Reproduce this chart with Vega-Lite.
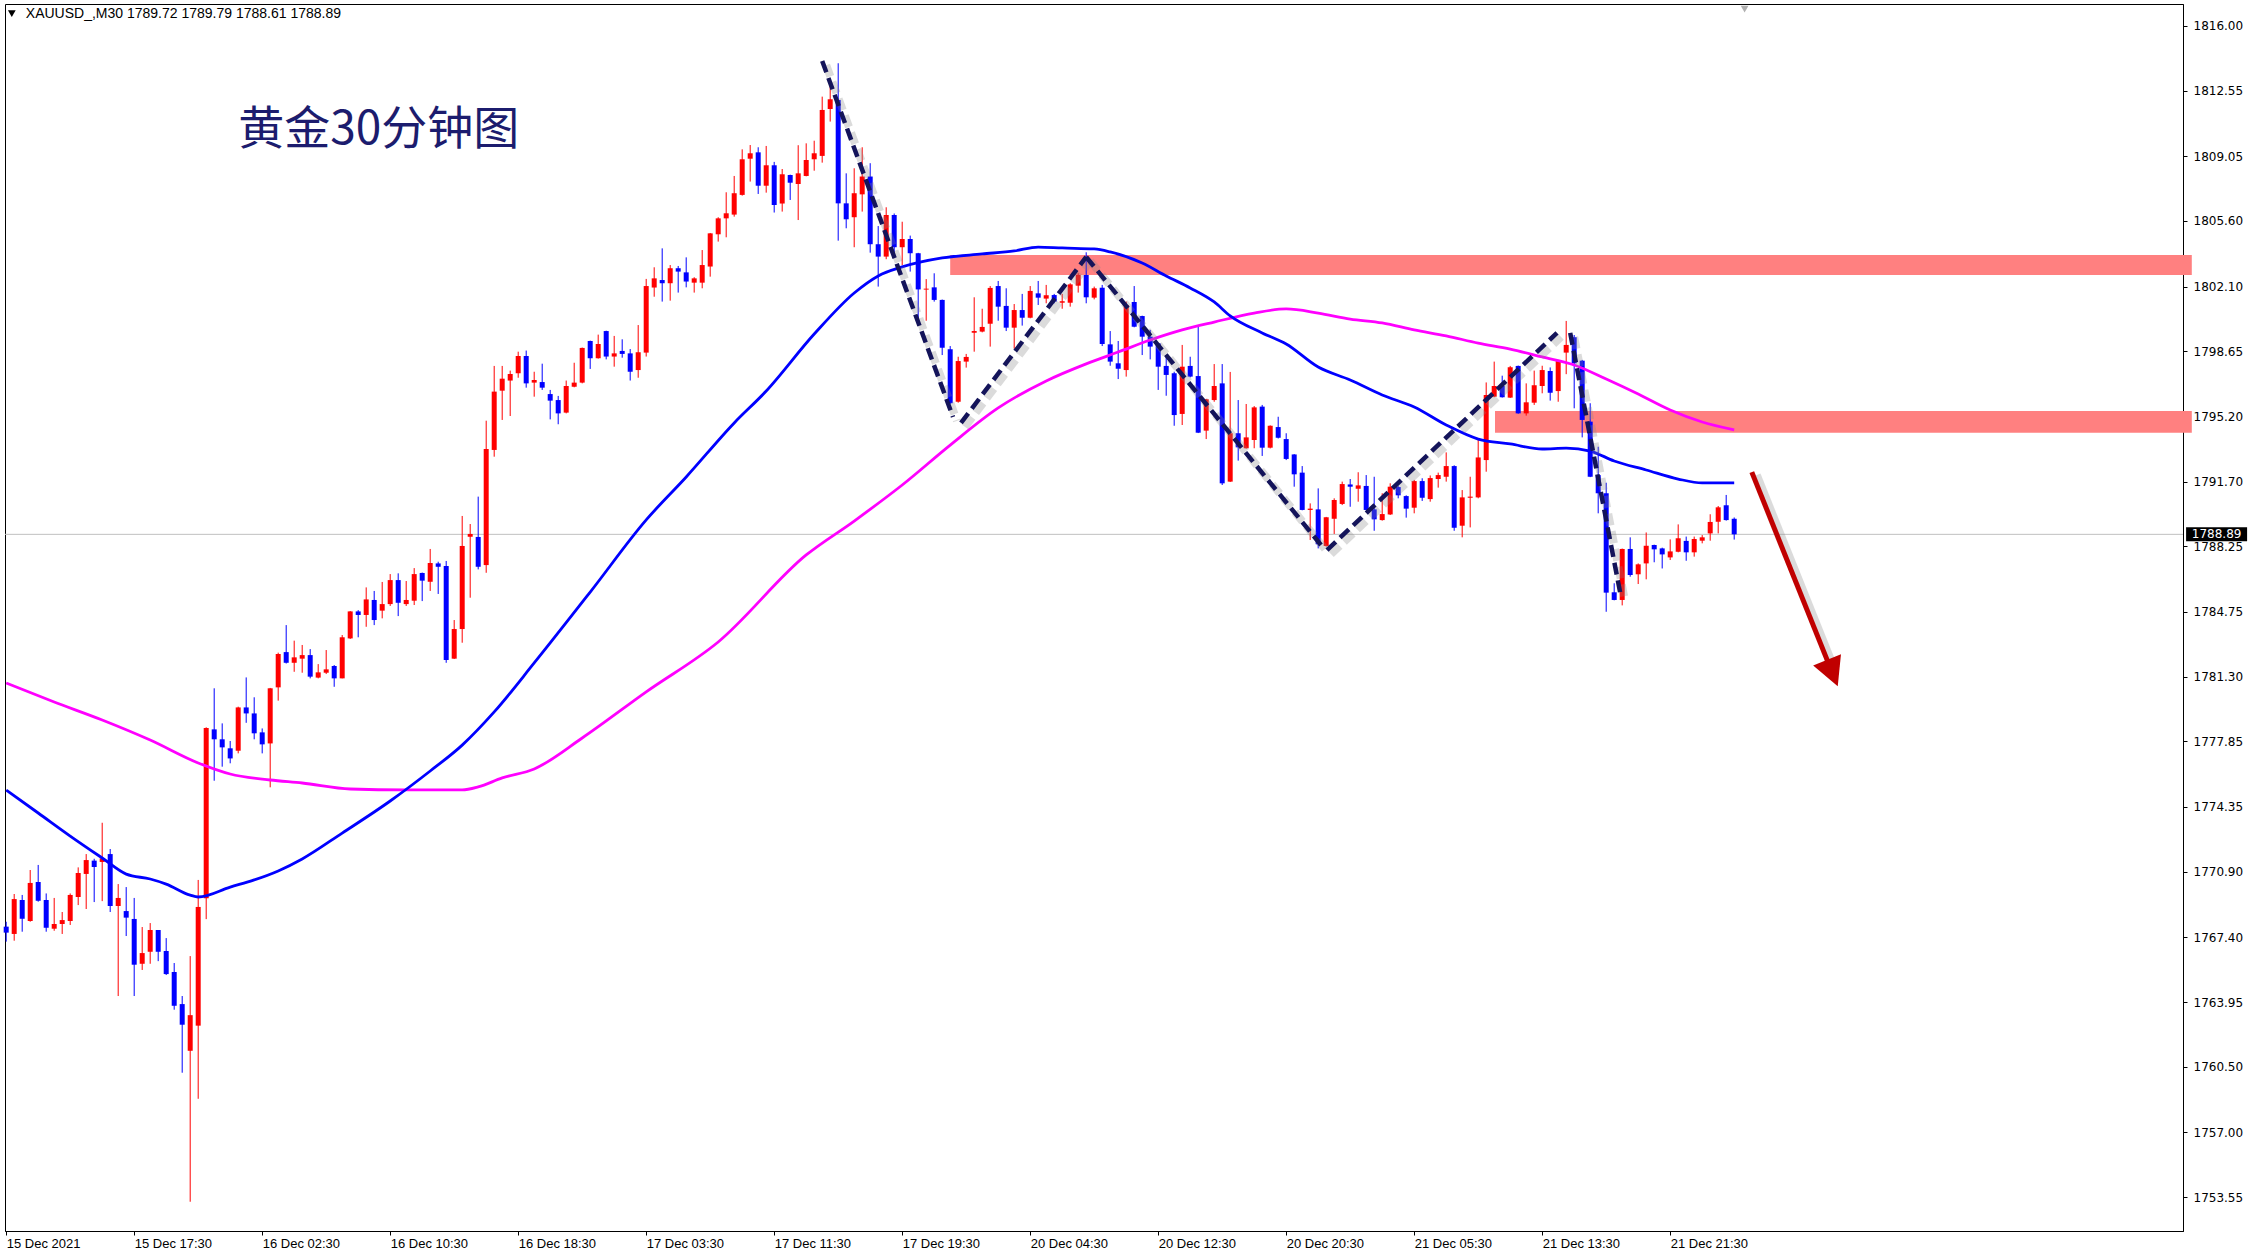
{
 "$schema": "https://vega.github.io/schema/vega-lite/v6.json",
 "width": 2178, "height": 1227,
 "autosize": {"type": "none"},
 "padding": {"left": 5, "top": 4, "right": 74, "bottom": 29},
 "background": "#ffffff",
 "config": {"view": {"stroke": "#000000", "strokeWidth": 1}, "axis": {"grid": false}},
 "datasets": {
  "candles": [
{"k":0,"o":1767.97,"h":1768.23,"l":1767.17,"c":1767.65},
{"k":1,"o":1767.58,"h":1769.71,"l":1767.22,"c":1769.44},
{"k":2,"o":1769.39,"h":1769.66,"l":1767.70,"c":1768.39},
{"k":3,"o":1768.27,"h":1770.99,"l":1768.23,"c":1770.30},
{"k":4,"o":1770.35,"h":1771.26,"l":1769.30,"c":1769.35},
{"k":5,"o":1769.39,"h":1769.74,"l":1767.70,"c":1767.91},
{"k":6,"o":1767.86,"h":1769.50,"l":1767.75,"c":1768.11},
{"k":7,"o":1768.11,"h":1768.75,"l":1767.58,"c":1768.32},
{"k":8,"o":1768.27,"h":1769.74,"l":1768.06,"c":1769.66},
{"k":9,"o":1769.55,"h":1771.13,"l":1769.12,"c":1770.83},
{"k":10,"o":1770.78,"h":1771.84,"l":1768.91,"c":1771.52},
{"k":11,"o":1771.49,"h":1771.59,"l":1769.28,"c":1771.15},
{"k":12,"o":1771.42,"h":1773.51,"l":1769.33,"c":1771.61},
{"k":13,"o":1771.84,"h":1772.11,"l":1768.75,"c":1769.07},
{"k":14,"o":1769.07,"h":1770.24,"l":1764.27,"c":1769.50},
{"k":15,"o":1768.80,"h":1770.08,"l":1767.47,"c":1768.45},
{"k":16,"o":1768.38,"h":1769.50,"l":1764.27,"c":1765.94},
{"k":17,"o":1765.99,"h":1767.95,"l":1765.66,"c":1766.56},
{"k":18,"o":1766.63,"h":1768.16,"l":1765.99,"c":1767.79},
{"k":19,"o":1767.79,"h":1767.79,"l":1766.13,"c":1766.63},
{"k":20,"o":1766.67,"h":1767.36,"l":1765.39,"c":1765.44},
{"k":21,"o":1765.55,"h":1766.03,"l":1763.54,"c":1763.75},
{"k":22,"o":1763.84,"h":1764.27,"l":1760.18,"c":1762.74},
{"k":23,"o":1761.35,"h":1766.40,"l":1753.30,"c":1763.25},
{"k":24,"o":1762.69,"h":1770.46,"l":1758.79,"c":1769.02},
{"k":25,"o":1769.49,"h":1778.60,"l":1768.37,"c":1778.56},
{"k":26,"o":1778.49,"h":1780.68,"l":1775.75,"c":1777.96},
{"k":27,"o":1777.96,"h":1778.81,"l":1776.50,"c":1777.53},
{"k":28,"o":1777.48,"h":1777.87,"l":1776.68,"c":1776.94},
{"k":29,"o":1777.35,"h":1779.70,"l":1777.21,"c":1779.66},
{"k":30,"o":1779.66,"h":1781.26,"l":1778.84,"c":1779.34},
{"k":31,"o":1779.34,"h":1780.20,"l":1777.96,"c":1778.28},
{"k":32,"o":1778.33,"h":1778.54,"l":1777.21,"c":1777.69},
{"k":33,"o":1777.74,"h":1780.70,"l":1775.40,"c":1780.68},
{"k":34,"o":1780.73,"h":1782.58,"l":1780.02,"c":1782.51},
{"k":35,"o":1782.61,"h":1784.05,"l":1782.00,"c":1782.04},
{"k":36,"o":1782.04,"h":1783.22,"l":1781.56,"c":1782.33},
{"k":37,"o":1782.26,"h":1782.99,"l":1781.51,"c":1782.45},
{"k":38,"o":1782.45,"h":1782.77,"l":1781.21,"c":1781.30},
{"k":39,"o":1781.25,"h":1781.97,"l":1781.21,"c":1781.53},
{"k":40,"o":1781.51,"h":1782.72,"l":1781.44,"c":1781.69},
{"k":41,"o":1781.87,"h":1781.92,"l":1780.76,"c":1781.21},
{"k":42,"o":1781.21,"h":1783.52,"l":1781.21,"c":1783.40},
{"k":43,"o":1783.34,"h":1784.80,"l":1783.31,"c":1784.78},
{"k":44,"o":1784.78,"h":1784.85,"l":1783.40,"c":1784.59},
{"k":45,"o":1784.59,"h":1786.06,"l":1783.96,"c":1785.42},
{"k":46,"o":1785.39,"h":1785.87,"l":1784.05,"c":1784.32},
{"k":47,"o":1784.82,"h":1786.35,"l":1784.41,"c":1785.17},
{"k":48,"o":1785.17,"h":1786.77,"l":1785.07,"c":1786.45},
{"k":49,"o":1786.45,"h":1786.81,"l":1784.53,"c":1785.24},
{"k":50,"o":1785.17,"h":1786.40,"l":1785.07,"c":1785.39},
{"k":51,"o":1785.35,"h":1787.09,"l":1785.12,"c":1786.77},
{"k":52,"o":1786.83,"h":1786.85,"l":1785.33,"c":1786.42},
{"k":53,"o":1786.36,"h":1788.11,"l":1785.87,"c":1787.36},
{"k":54,"o":1787.34,"h":1787.43,"l":1785.71,"c":1787.16},
{"k":55,"o":1787.20,"h":1787.47,"l":1782.04,"c":1782.19},
{"k":56,"o":1782.26,"h":1784.32,"l":1782.24,"c":1783.84},
{"k":57,"o":1783.84,"h":1789.87,"l":1783.11,"c":1788.27},
{"k":58,"o":1788.76,"h":1789.44,"l":1785.51,"c":1788.91},
{"k":59,"o":1788.75,"h":1790.90,"l":1787.02,"c":1787.16},
{"k":60,"o":1787.25,"h":1794.95,"l":1786.84,"c":1793.44},
{"k":61,"o":1793.39,"h":1797.87,"l":1793.03,"c":1796.50},
{"k":62,"o":1796.55,"h":1797.87,"l":1794.99,"c":1797.19},
{"k":63,"o":1797.09,"h":1797.62,"l":1795.20,"c":1797.44},
{"k":64,"o":1797.48,"h":1798.63,"l":1797.24,"c":1798.40},
{"k":65,"o":1798.40,"h":1798.69,"l":1796.71,"c":1796.94},
{"k":66,"o":1796.98,"h":1797.56,"l":1796.23,"c":1797.12},
{"k":67,"o":1797.01,"h":1797.99,"l":1796.59,"c":1796.71},
{"k":68,"o":1796.37,"h":1796.59,"l":1795.02,"c":1796.02},
{"k":69,"o":1796.05,"h":1796.27,"l":1794.76,"c":1795.34},
{"k":70,"o":1795.38,"h":1797.09,"l":1795.34,"c":1796.80},
{"k":71,"o":1796.76,"h":1798.04,"l":1796.73,"c":1796.98},
{"k":72,"o":1796.98,"h":1798.85,"l":1796.94,"c":1798.83},
{"k":73,"o":1799.20,"h":1799.22,"l":1797.71,"c":1798.28},
{"k":74,"o":1798.28,"h":1799.54,"l":1798.26,"c":1799.04},
{"k":75,"o":1799.73,"h":1799.75,"l":1798.22,"c":1798.37},
{"k":76,"o":1798.37,"h":1799.47,"l":1797.83,"c":1798.54},
{"k":77,"o":1798.67,"h":1799.29,"l":1798.31,"c":1798.51},
{"k":78,"o":1798.54,"h":1798.77,"l":1797.09,"c":1797.56},
{"k":79,"o":1797.65,"h":1800.05,"l":1797.24,"c":1798.60},
{"k":80,"o":1798.58,"h":1802.51,"l":1798.37,"c":1802.13},
{"k":81,"o":1802.05,"h":1803.13,"l":1801.56,"c":1802.54},
{"k":82,"o":1802.45,"h":1804.14,"l":1801.30,"c":1802.28},
{"k":83,"o":1802.28,"h":1803.25,"l":1801.35,"c":1803.08},
{"k":84,"o":1803.08,"h":1803.20,"l":1801.78,"c":1802.90},
{"k":85,"o":1802.86,"h":1803.66,"l":1802.06,"c":1802.37},
{"k":86,"o":1802.31,"h":1802.60,"l":1801.78,"c":1802.54},
{"k":87,"o":1802.31,"h":1804.05,"l":1802.01,"c":1803.25},
{"k":88,"o":1803.17,"h":1804.96,"l":1802.63,"c":1804.94},
{"k":89,"o":1804.89,"h":1805.80,"l":1804.50,"c":1805.74},
{"k":90,"o":1805.74,"h":1807.13,"l":1804.73,"c":1806.01},
{"k":91,"o":1805.94,"h":1808.00,"l":1805.83,"c":1807.08},
{"k":92,"o":1806.99,"h":1809.42,"l":1806.95,"c":1808.89},
{"k":93,"o":1808.92,"h":1809.65,"l":1807.70,"c":1809.21},
{"k":94,"o":1809.26,"h":1809.53,"l":1807.04,"c":1807.48},
{"k":95,"o":1807.48,"h":1809.60,"l":1807.11,"c":1808.57},
{"k":96,"o":1808.57,"h":1808.75,"l":1806.05,"c":1806.45},
{"k":97,"o":1806.53,"h":1808.37,"l":1806.10,"c":1808.09},
{"k":98,"o":1808.05,"h":1808.07,"l":1806.72,"c":1807.64},
{"k":99,"o":1807.57,"h":1809.64,"l":1805.65,"c":1808.14},
{"k":100,"o":1808.00,"h":1809.74,"l":1807.98,"c":1808.85},
{"k":101,"o":1808.89,"h":1809.88,"l":1808.28,"c":1809.21},
{"k":102,"o":1809.07,"h":1812.23,"l":1808.71,"c":1811.52},
{"k":103,"o":1811.57,"h":1813.03,"l":1810.90,"c":1812.09},
{"k":104,"o":1812.05,"h":1814.01,"l":1804.55,"c":1806.54},
{"k":105,"o":1806.54,"h":1808.14,"l":1805.21,"c":1805.69},
{"k":106,"o":1805.80,"h":1808.41,"l":1804.20,"c":1807.08},
{"k":107,"o":1807.02,"h":1809.53,"l":1806.10,"c":1807.97},
{"k":108,"o":1807.97,"h":1808.68,"l":1803.91,"c":1804.36},
{"k":109,"o":1804.36,"h":1805.33,"l":1802.10,"c":1803.70},
{"k":110,"o":1803.70,"h":1806.33,"l":1803.56,"c":1805.92},
{"k":111,"o":1805.92,"h":1806.00,"l":1803.90,"c":1804.20},
{"k":112,"o":1804.20,"h":1805.56,"l":1803.25,"c":1804.64},
{"k":113,"o":1804.64,"h":1804.82,"l":1802.90,"c":1803.88},
{"k":114,"o":1803.88,"h":1803.90,"l":1800.32,"c":1801.95},
{"k":115,"o":1801.94,"h":1802.50,"l":1800.28,"c":1801.99},
{"k":116,"o":1802.06,"h":1802.81,"l":1801.30,"c":1801.39},
{"k":117,"o":1801.39,"h":1801.41,"l":1798.45,"c":1798.84},
{"k":118,"o":1798.76,"h":1798.93,"l":1795.84,"c":1795.88},
{"k":119,"o":1795.96,"h":1798.36,"l":1795.91,"c":1798.13},
{"k":120,"o":1798.10,"h":1798.51,"l":1797.78,"c":1798.35},
{"k":121,"o":1799.64,"h":1801.53,"l":1798.63,"c":1799.73},
{"k":122,"o":1799.70,"h":1800.92,"l":1799.66,"c":1799.95},
{"k":123,"o":1800.12,"h":1802.13,"l":1798.90,"c":1802.03},
{"k":124,"o":1802.13,"h":1802.40,"l":1800.28,"c":1801.03},
{"k":125,"o":1801.07,"h":1802.01,"l":1799.73,"c":1799.91},
{"k":126,"o":1799.91,"h":1801.17,"l":1798.79,"c":1800.85},
{"k":127,"o":1800.85,"h":1801.71,"l":1800.02,"c":1800.44},
{"k":128,"o":1800.44,"h":1802.13,"l":1800.41,"c":1801.87},
{"k":129,"o":1801.74,"h":1802.40,"l":1801.12,"c":1801.51},
{"k":130,"o":1801.46,"h":1802.19,"l":1801.21,"c":1801.64},
{"k":131,"o":1801.65,"h":1801.71,"l":1801.21,"c":1801.30},
{"k":132,"o":1801.24,"h":1801.71,"l":1800.92,"c":1801.32},
{"k":133,"o":1801.24,"h":1802.28,"l":1801.03,"c":1802.22},
{"k":134,"o":1802.15,"h":1802.81,"l":1801.78,"c":1802.72},
{"k":135,"o":1802.72,"h":1803.93,"l":1801.21,"c":1801.53},
{"k":136,"o":1801.51,"h":1802.10,"l":1801.42,"c":1802.01},
{"k":137,"o":1802.04,"h":1802.19,"l":1798.93,"c":1799.04},
{"k":138,"o":1799.02,"h":1799.73,"l":1797.88,"c":1798.10},
{"k":139,"o":1798.01,"h":1799.20,"l":1797.17,"c":1797.72},
{"k":140,"o":1797.65,"h":1801.30,"l":1797.30,"c":1801.12},
{"k":141,"o":1801.28,"h":1802.13,"l":1799.93,"c":1799.96},
{"k":142,"o":1800.53,"h":1800.55,"l":1798.45,"c":1799.43},
{"k":143,"o":1799.43,"h":1799.79,"l":1798.22,"c":1798.90},
{"k":144,"o":1799.07,"h":1799.09,"l":1796.59,"c":1797.83},
{"k":145,"o":1797.87,"h":1798.45,"l":1796.28,"c":1797.39},
{"k":146,"o":1797.48,"h":1797.56,"l":1794.68,"c":1795.25},
{"k":147,"o":1795.31,"h":1798.99,"l":1794.72,"c":1797.83},
{"k":148,"o":1797.87,"h":1798.36,"l":1797.26,"c":1797.30},
{"k":149,"o":1797.33,"h":1800.00,"l":1794.29,"c":1794.31},
{"k":150,"o":1794.42,"h":1796.11,"l":1793.97,"c":1796.09},
{"k":151,"o":1796.05,"h":1797.97,"l":1795.96,"c":1796.80},
{"k":152,"o":1796.94,"h":1797.97,"l":1791.52,"c":1791.61},
{"k":153,"o":1791.70,"h":1797.55,"l":1791.68,"c":1794.28},
{"k":154,"o":1794.28,"h":1796.05,"l":1792.82,"c":1793.53},
{"k":155,"o":1793.48,"h":1795.84,"l":1793.46,"c":1794.06},
{"k":156,"o":1793.92,"h":1795.73,"l":1793.48,"c":1795.66},
{"k":157,"o":1795.70,"h":1795.79,"l":1793.07,"c":1793.51},
{"k":158,"o":1793.51,"h":1794.70,"l":1793.47,"c":1794.68},
{"k":159,"o":1794.61,"h":1795.16,"l":1794.00,"c":1794.04},
{"k":160,"o":1793.97,"h":1794.28,"l":1792.85,"c":1792.91},
{"k":161,"o":1793.15,"h":1793.17,"l":1791.43,"c":1792.09},
{"k":162,"o":1792.18,"h":1792.53,"l":1790.17,"c":1790.19},
{"k":163,"o":1790.19,"h":1790.54,"l":1788.59,"c":1790.26},
{"k":164,"o":1790.22,"h":1791.34,"l":1788.14,"c":1788.36},
{"k":165,"o":1788.27,"h":1789.82,"l":1788.23,"c":1789.80},
{"k":166,"o":1789.72,"h":1790.81,"l":1788.91,"c":1790.72},
{"k":167,"o":1790.51,"h":1791.70,"l":1790.45,"c":1791.57},
{"k":168,"o":1791.55,"h":1791.84,"l":1790.36,"c":1791.43},
{"k":169,"o":1791.32,"h":1792.20,"l":1790.63,"c":1791.50},
{"k":170,"o":1791.47,"h":1792.05,"l":1790.17,"c":1790.19},
{"k":171,"o":1790.22,"h":1791.96,"l":1789.08,"c":1789.69},
{"k":172,"o":1789.65,"h":1791.08,"l":1789.62,"c":1789.97},
{"k":173,"o":1789.95,"h":1791.61,"l":1789.92,"c":1791.43},
{"k":174,"o":1791.41,"h":1791.47,"l":1790.81,"c":1790.97},
{"k":175,"o":1790.93,"h":1790.97,"l":1789.78,"c":1790.26},
{"k":176,"o":1790.31,"h":1791.79,"l":1790.01,"c":1791.73},
{"k":177,"o":1791.73,"h":1791.88,"l":1790.67,"c":1790.84},
{"k":178,"o":1790.77,"h":1792.03,"l":1790.63,"c":1791.89},
{"k":179,"o":1791.84,"h":1792.18,"l":1791.38,"c":1792.05},
{"k":180,"o":1791.96,"h":1793.26,"l":1791.70,"c":1792.53},
{"k":181,"o":1792.53,"h":1792.57,"l":1789.08,"c":1789.24},
{"k":182,"o":1789.35,"h":1791.25,"l":1788.73,"c":1790.86},
{"k":183,"o":1790.84,"h":1791.96,"l":1789.26,"c":1790.90},
{"k":184,"o":1790.86,"h":1793.92,"l":1790.81,"c":1792.99},
{"k":185,"o":1792.85,"h":1796.99,"l":1792.23,"c":1796.32},
{"k":186,"o":1796.23,"h":1798.10,"l":1796.20,"c":1796.80},
{"k":187,"o":1796.80,"h":1797.35,"l":1796.18,"c":1796.20},
{"k":188,"o":1796.18,"h":1797.87,"l":1796.16,"c":1797.80},
{"k":189,"o":1797.87,"h":1797.89,"l":1795.32,"c":1795.34},
{"k":190,"o":1795.34,"h":1796.94,"l":1795.22,"c":1795.93},
{"k":191,"o":1795.91,"h":1797.62,"l":1795.79,"c":1796.84},
{"k":192,"o":1796.80,"h":1797.88,"l":1796.41,"c":1797.65},
{"k":193,"o":1797.60,"h":1797.79,"l":1796.02,"c":1796.44},
{"k":194,"o":1796.53,"h":1798.19,"l":1795.96,"c":1798.13},
{"k":195,"o":1798.58,"h":1800.27,"l":1797.43,"c":1798.99},
{"k":196,"o":1799.40,"h":1799.52,"l":1795.61,"c":1798.01},
{"k":197,"o":1798.15,"h":1798.19,"l":1794.06,"c":1794.99},
{"k":198,"o":1794.90,"h":1795.88,"l":1791.94,"c":1791.96},
{"k":199,"o":1792.05,"h":1793.56,"l":1790.01,"c":1791.08},
{"k":200,"o":1791.08,"h":1791.64,"l":1784.76,"c":1785.78},
{"k":201,"o":1785.80,"h":1786.28,"l":1785.37,"c":1785.39},
{"k":202,"o":1785.39,"h":1788.13,"l":1785.10,"c":1788.11},
{"k":203,"o":1788.11,"h":1788.73,"l":1786.63,"c":1786.72},
{"k":204,"o":1786.76,"h":1787.34,"l":1786.24,"c":1787.29},
{"k":205,"o":1787.34,"h":1788.99,"l":1786.49,"c":1788.28},
{"k":206,"o":1788.32,"h":1788.34,"l":1787.40,"c":1788.09},
{"k":207,"o":1788.14,"h":1788.18,"l":1787.07,"c":1787.82},
{"k":208,"o":1787.66,"h":1788.62,"l":1787.52,"c":1787.98},
{"k":209,"o":1787.96,"h":1789.42,"l":1787.93,"c":1788.68},
{"k":210,"o":1788.54,"h":1788.77,"l":1787.48,"c":1787.93},
{"k":211,"o":1787.93,"h":1788.77,"l":1787.70,"c":1788.64},
{"k":212,"o":1788.55,"h":1788.85,"l":1788.41,"c":1788.73},
{"k":213,"o":1788.94,"h":1789.96,"l":1788.55,"c":1789.55},
{"k":214,"o":1789.56,"h":1790.40,"l":1788.94,"c":1790.33},
{"k":215,"o":1790.44,"h":1790.99,"l":1789.62,"c":1789.65},
{"k":216,"o":1789.72,"h":1789.79,"l":1788.61,"c":1788.89}
  ],
  "maBlue": [
{"k":0,"p":1775.25},{"k":4,"p":1774.03},{"k":8,"p":1772.80},{"k":12,"p":1771.63},{"k":15,"p":1770.77},{"k":18,"p":1770.51},{"k":20,"p":1770.24},{"k":23,"p":1769.65},{"k":24,"p":1769.55},{"k":28,"p":1770.08},{"k":31,"p":1770.46},{"k":34,"p":1770.94},{"k":37,"p":1771.58},{"k":42,"p":1772.96},{"k":48,"p":1774.67},{"k":53,"p":1776.27},{"k":57,"p":1777.65},{"k":61,"p":1779.42},{"k":66,"p":1782.03},{"k":73,"p":1785.81},{"k":80,"p":1789.66},{"k":85,"p":1791.95},{"k":91,"p":1794.83},{"k":95,"p":1796.53},{"k":101,"p":1799.57},{"k":106,"p":1801.76},{"k":109,"p":1802.67},{"k":112,"p":1803.15},{"k":117,"p":1803.63},{"k":122,"p":1803.84},{"k":126,"p":1804.00},{"k":129,"p":1804.21},{"k":132,"p":1804.16},{"k":136,"p":1804.11},{"k":138,"p":1803.95},{"k":142,"p":1803.36},{"k":145,"p":1802.67},{"k":148,"p":1802.03},{"k":151,"p":1801.28},{"k":153,"p":1800.54},{"k":157,"p":1799.63},{"k":160,"p":1799.04},{"k":164,"p":1797.81},{"k":168,"p":1797.12},{"k":172,"p":1796.32},{"k":176,"p":1795.68},{"k":180,"p":1794.72},{"k":184,"p":1793.97},{"k":188,"p":1793.71},{"k":192,"p":1793.44},{"k":195,"p":1793.49},{"k":198,"p":1793.33},{"k":201,"p":1792.80},{"k":205,"p":1792.32},{"k":209,"p":1791.84},{"k":212,"p":1791.63},{"k":216,"p":1791.63}
  ],
  "maMag": [
{"k":0,"p":1780.96},{"k":6,"p":1779.95},{"k":12,"p":1778.99},{"k":18,"p":1777.92},{"k":24,"p":1776.70},{"k":28,"p":1776.11},{"k":33,"p":1775.79},{"k":37,"p":1775.63},{"k":43,"p":1775.31},{"k":50,"p":1775.26},{"k":57,"p":1775.26},{"k":59,"p":1775.42},{"k":62,"p":1775.90},{"k":66,"p":1776.38},{"k":72,"p":1778.03},{"k":80,"p":1780.49},{"k":89,"p":1783.15},{"k":100,"p":1787.79},{"k":106,"p":1789.60},{"k":112,"p":1791.52},{"k":118,"p":1793.65},{"k":124,"p":1795.63},{"k":130,"p":1797.07},{"k":135,"p":1797.98},{"k":139,"p":1798.61},{"k":143,"p":1799.25},{"k":147,"p":1799.79},{"k":151,"p":1800.21},{"k":156,"p":1800.69},{"k":160,"p":1800.91},{"k":164,"p":1800.69},{"k":168,"p":1800.37},{"k":172,"p":1800.16},{"k":176,"p":1799.79},{"k":180,"p":1799.47},{"k":184,"p":1799.09},{"k":188,"p":1798.77},{"k":192,"p":1798.35},{"k":196,"p":1797.92},{"k":200,"p":1797.17},{"k":204,"p":1796.37},{"k":208,"p":1795.52},{"k":212,"p":1794.88},{"k":216,"p":1794.46}
  ],
  "zig": [
{"seg":1,"k":102.0,"p":1814.13},{"seg":1,"k":118.35,"p":1795.15},
{"seg":2,"k":119.35,"p":1794.83},{"seg":2,"k":135.0,"p":1803.68},
{"seg":3,"k":135.0,"p":1803.68},{"seg":3,"k":164.35,"p":1788.32},
{"seg":4,"k":165.1,"p":1788.05},{"seg":4,"k":193.85,"p":1799.63},
{"seg":5,"k":195.5,"p":1799.63},{"seg":5,"k":201.85,"p":1785.55}
  ],
  "zones": [
{"k1":118.0,"k2":273.2,"p1":1803.79,"p2":1802.72},
{"k1":186.1,"k2":273.2,"p1":1795.47,"p2":1794.31}
  ],
  "arrow": [{"k":218.2,"p":1792.21},{"k":227.7,"p":1782.10}],
  "arrowHead": [{"k":228.1,"p":1781.68}],
  "last": [{"p":1788.89,"label":"1788.89"}],
  "one": [{"t":1}]
 },
 "layer": [
  {"data": {"name": "zones"}, "mark": {"type": "rect", "color": "#ff8080"},
   "encoding": {
    "x": {"field": "k1", "type": "quantitative", "scale": {"domain": [-0.15, 272.1], "nice": false, "zero": false},
      "axis": {"values": [0,16,32,48,64,80,96,112,128,144,160,176,192,208],
        "labelExpr": "['15 Dec 2021','15 Dec 17:30','16 Dec 02:30','16 Dec 10:30','16 Dec 18:30','17 Dec 03:30','17 Dec 11:30','17 Dec 19:30','20 Dec 04:30','20 Dec 12:30','20 Dec 20:30','21 Dec 05:30','21 Dec 13:30','21 Dec 21:30'][round(datum.value/16)]",
        "labelAlign": "left", "labelFont": "Liberation Sans", "labelFontSize": 13, "labelColor": "#000000",
        "tickColor": "#000000", "tickSize": 4, "labelPadding": 2, "domainColor": "#000000", "title": null,
        "labelOverlap": false, "labelFlush": false, "labelBound": false}},
    "x2": {"field": "k2"},
    "y": {"field": "p1", "type": "quantitative", "scale": {"domain": [1751.74, 1817.17], "nice": false, "zero": false},
      "axis": {"orient": "right", "values": [1816.00,1812.55,1809.05,1805.60,1802.10,1798.65,1795.20,1791.70,1788.25,1784.75,1781.30,1777.85,1774.35,1770.90,1767.40,1763.95,1760.50,1757.00,1753.55],
        "format": ".2f", "labelFont": "DejaVu Sans", "labelFontSize": 12, "labelColor": "#000000",
        "tickColor": "#000000", "tickSize": 4, "labelPadding": 6, "domainColor": "#000000", "title": null, "labelOverlap": false}},
    "y2": {"field": "p2"}}},
  {"data": {"name": "last"}, "mark": {"type": "rule", "color": "#c0c0c0", "strokeWidth": 1},
   "encoding": {"y": {"field": "p", "type": "quantitative"}}},
  {"data": {"name": "candles"}, "mark": {"type": "rule", "strokeWidth": 1},
   "encoding": {
    "x": {"field": "k", "type": "quantitative"},
    "y": {"field": "l", "type": "quantitative"},
    "y2": {"field": "h"},
    "color": {"condition": {"test": "datum.c >= datum.o", "value": "#ff0000"}, "value": "#0000ff"}}},
  {"data": {"name": "candles"}, "mark": {"type": "rule", "strokeWidth": 5, "strokeCap": "butt"},
   "encoding": {
    "x": {"field": "k", "type": "quantitative"},
    "y": {"field": "o", "type": "quantitative"},
    "y2": {"field": "c"},
    "color": {"condition": {"test": "datum.c >= datum.o", "value": "#ff0000"}, "value": "#0000ff"}}},
  {"data": {"name": "maMag"}, "mark": {"type": "line", "color": "#ff00ff", "strokeWidth": 2.8, "interpolate": "monotone"},
   "encoding": {"x": {"field": "k", "type": "quantitative"}, "y": {"field": "p", "type": "quantitative"}}},
  {"data": {"name": "maBlue"}, "mark": {"type": "line", "color": "#0000ff", "strokeWidth": 2.8, "interpolate": "monotone"},
   "encoding": {"x": {"field": "k", "type": "quantitative"}, "y": {"field": "p", "type": "quantitative"}}},
  {"data": {"name": "zig"}, "mark": {"type": "line", "color": "#888888", "opacity": 0.3, "strokeWidth": 8, "strokeDash": [12, 6], "xOffset": 4, "yOffset": 4},
   "encoding": {"x": {"field": "k", "type": "quantitative"}, "y": {"field": "p", "type": "quantitative"}, "detail": {"field": "seg"}}},
  {"data": {"name": "zig"}, "mark": {"type": "line", "color": "#14145a", "strokeWidth": 4.5, "strokeDash": [12, 6]},
   "encoding": {"x": {"field": "k", "type": "quantitative"}, "y": {"field": "p", "type": "quantitative"}, "detail": {"field": "seg"}}},
  {"data": {"name": "arrow"}, "mark": {"type": "line", "color": "#888888", "opacity": 0.3, "strokeWidth": 8, "xOffset": 5, "yOffset": 3},
   "encoding": {"x": {"field": "k", "type": "quantitative"}, "y": {"field": "p", "type": "quantitative"}}},
  {"data": {"name": "arrow"}, "mark": {"type": "line", "color": "#c00000", "strokeWidth": 5},
   "encoding": {"x": {"field": "k", "type": "quantitative"}, "y": {"field": "p", "type": "quantitative"}}},
  {"data": {"name": "arrowHead"}, "mark": {"type": "point", "shape": "M-0.5,-0.35L0.5,-0.35L0,0.6Z", "filled": true, "color": "#c00000", "opacity": 1, "size": 3600, "angle": -22},
   "encoding": {"x": {"field": "k", "type": "quantitative"}, "y": {"field": "p", "type": "quantitative"}}},
  {"data": {"name": "one"}, "mark": {"type": "text", "text": "黄金30分钟图", "font": "Noto Sans CJK SC", "fontSize": 46, "color": "#1c1c6e", "align": "left", "baseline": "middle"},
   "encoding": {"x": {"datum": 29.0, "type": "quantitative"}, "y": {"datum": 1810.45, "type": "quantitative"}}},
  {"data": {"name": "one"}, "mark": {"type": "text", "text": "XAUUSD_,M30  1789.72 1789.79 1788.61 1788.89", "font": "Liberation Sans", "fontSize": 14, "color": "#000000", "align": "left", "baseline": "middle"},
   "encoding": {"x": {"datum": 2.45, "type": "quantitative"}, "y": {"datum": 1816.62, "type": "quantitative"}}},
  {"data": {"name": "one"}, "mark": {"type": "point", "shape": "triangle-down", "filled": true, "color": "#000000", "opacity": 1, "size": 60},
   "encoding": {"x": {"datum": 0.7, "type": "quantitative"}, "y": {"datum": 1816.66, "type": "quantitative"}}},
  {"data": {"name": "one"}, "mark": {"type": "point", "shape": "triangle-down", "filled": true, "color": "#b0b0b0", "opacity": 1, "size": 60},
   "encoding": {"x": {"datum": 217.3, "type": "quantitative"}, "y": {"datum": 1816.9, "type": "quantitative"}}},
  {"data": {"name": "last"}, "mark": {"type": "point", "shape": "M-1,-0.23H1V0.23H-1Z", "filled": true, "color": "#000000", "opacity": 1, "size": 3721},
   "encoding": {"x": {"datum": 276.3, "type": "quantitative"}, "y": {"field": "p", "type": "quantitative"}}},
  {"data": {"name": "last"}, "mark": {"type": "text", "font": "DejaVu Sans", "fontSize": 12, "color": "#ffffff", "align": "center", "baseline": "middle"},
   "encoding": {"x": {"datum": 276.3, "type": "quantitative"}, "y": {"field": "p", "type": "quantitative"}, "text": {"field": "label"}}}
 ]
}
